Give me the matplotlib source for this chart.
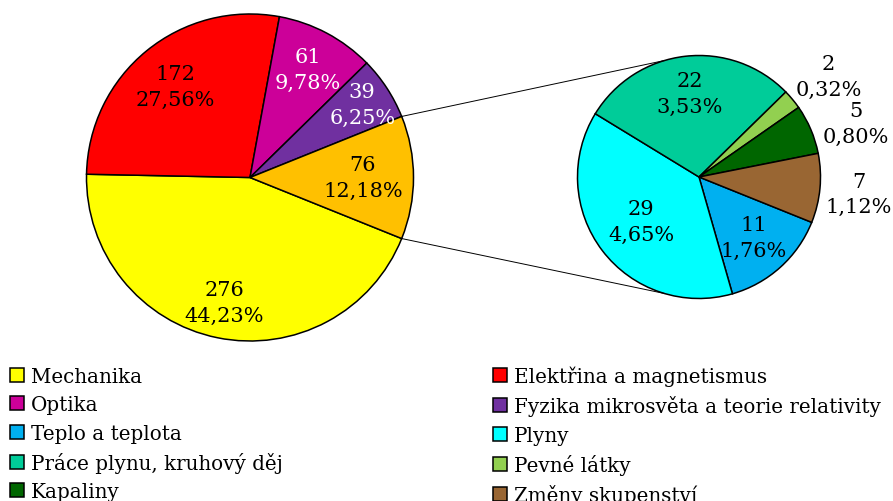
import math
import matplotlib.pyplot as plt

plt.rcParams['font.family'] = ['DejaVu Serif']

# main pie (clockwise from the right-hand edge of the "other" slice)
main_labels = ["Mechanika", "Elektřina a magnetismus", "Optika",
               "Fyzika mikrosvěta a teorie relativity", "Ostatní"]
main_values = [276, 172, 61, 39, 76]
main_colors = ["#FFFF00", "#FF0000", "#CC0099", "#7030A0", "#FFC000"]

# secondary pie, breakdown of the "other" slice
sub_labels = ["Teplo a teplota", "Plyny", "Práce plynu, kruhový děj",
              "Pevné látky", "Kapaliny", "Změny skupenství"]
sub_values = [11, 29, 22, 2, 5, 7]
sub_colors = ["#00B0F0", "#00FFFF", "#00CC99", "#92D050", "#006600", "#996633"]

total = sum(main_values)

fig = plt.figure(figsize=(8.93, 5.02), dpi=100)
ax = fig.add_axes([0, 0, 1, 1])

edge = dict(edgecolor="black", linewidth=1.1)
start = -main_values[-1] / total * 360 / 2

main_c, main_r = (250, 323.5), 163.5
sub_c, sub_r = (699, 324), 121.5

main_w, _ = ax.pie(main_values, colors=main_colors, startangle=start,
                   counterclock=False, center=main_c, radius=main_r,
                   wedgeprops=edge)
sub_w, _ = ax.pie(sub_values, colors=sub_colors, startangle=start,
                  counterclock=False, center=sub_c, radius=sub_r,
                  wedgeprops=edge)


def put_labels(wedges, values, c, r, dists, shifts, colors):
    for w, v, d, s, col in zip(wedges, values, dists, shifts, colors):
        a = math.radians((w.theta1 + w.theta2) / 2 + s)
        txt = f"{v}\n{v / total * 100:.2f}%".replace(".", ",")
        ax.text(c[0] + d * r * math.cos(a), c[1] + d * r * math.sin(a), txt,
                ha="center", va="center", fontsize=15, color=col,
                linespacing=1.45)


put_labels(main_w, main_values, main_c, main_r,
           [0.78, 0.72, 0.75, 0.82, 0.69], [0] * 5,
           ["black", "black", "white", "white", "black"])
put_labels(sub_w, sub_values, sub_c, sub_r,
           [0.67, 0.6, 0.69, 1.35, 1.36, 1.32], [0, 0, 0, -1.8, -4.3, -0.7],
           ["black"] * 6)

# connector lines from the "other" slice to the secondary pie
oth = main_w[-1]
for t_main, t_sub in [(oth.theta2, 106.5), (oth.theta1, -106.5)]:
    a1, a2 = math.radians(t_main), math.radians(t_sub)
    ax.plot([main_c[0] + main_r * math.cos(a1), sub_c[0] + sub_r * math.cos(a2)],
            [main_c[1] + main_r * math.sin(a1), sub_c[1] + sub_r * math.sin(a2)],
            color="black", linewidth=0.7)

ax.set_xlim(0, 893)
ax.set_ylim(0, 502)
ax.set_axis_off()

# legend, row-major order like the original
handles = main_w[:4] + sub_w
labels = main_labels[:4] + sub_labels
order = [0, 2, 4, 6, 8, 1, 3, 5, 7, 9]
fig.legend([handles[i] for i in order], [labels[i] for i in order],
           ncol=2, loc="upper left", bbox_to_anchor=(0.0045, 0.282),
           frameon=False, fontsize=14.3, handlelength=0.7, handleheight=0.7,
           handletextpad=0.35, columnspacing=10.6, labelspacing=0.47,
           borderaxespad=0, borderpad=0.3)

fig.savefig("out.png", dpi=100)
